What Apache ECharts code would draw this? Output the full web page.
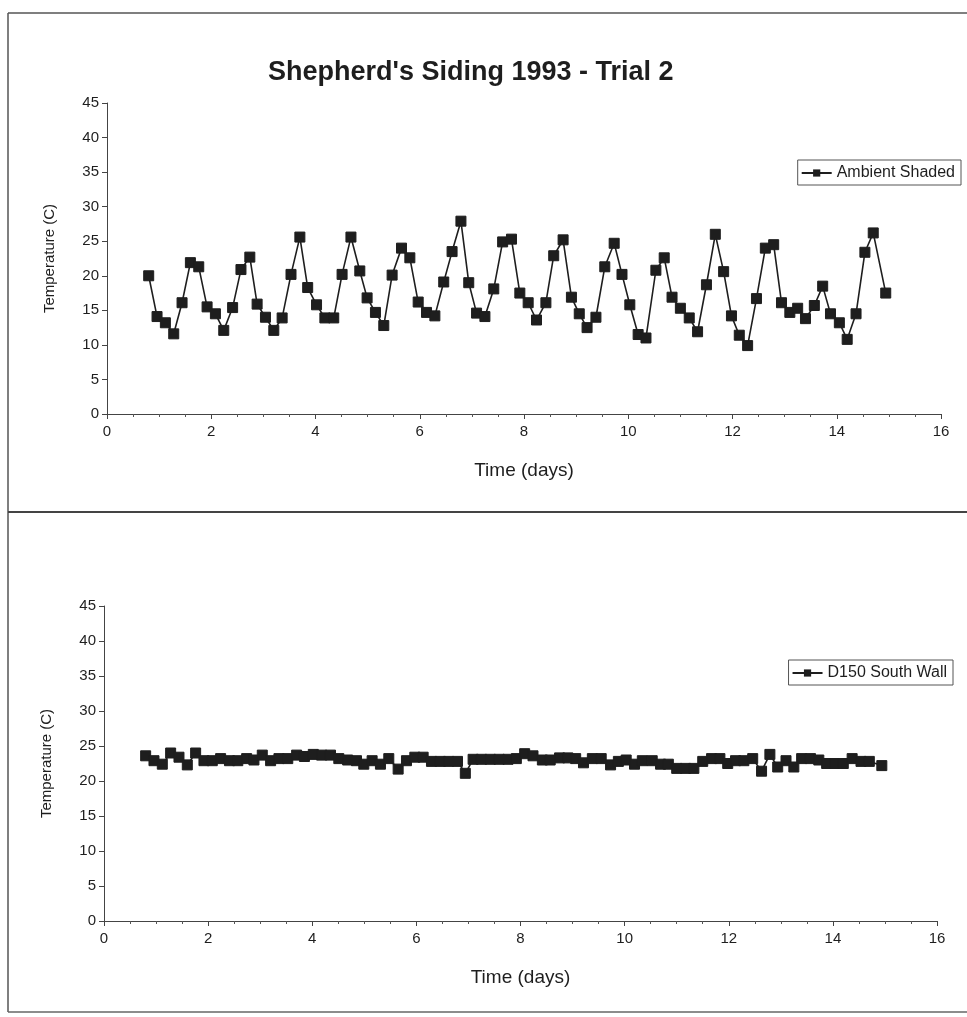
<!DOCTYPE html>
<html>
<head>
<meta charset="utf-8">
<script src="https://cdn.jsdelivr.net/npm/echarts@6/dist/echarts.min.js"></script>
<style>
html,body{margin:0;padding:0;background:#fff;}
#c{width:967px;height:1017px;}
</style>
</head>
<body>
<div id="c"></div>
<script>
// Time of each reading (days)
const timeDays = [0.80,0.96,1.12,1.28,1.44,1.60,1.76,1.92,2.08,2.24,2.41,2.57,2.74,2.88,3.04,3.20,3.36,3.53,3.70,3.85,
  4.02,4.18,4.35,4.51,4.68,4.85,4.99,5.15,5.31,5.47,5.65,5.81,5.97,6.13,6.29,6.46,6.62,6.79,6.94,7.09,
  7.25,7.42,7.59,7.76,7.92,8.08,8.24,8.42,8.57,8.75,8.91,9.06,9.21,9.38,9.55,9.73,9.88,10.03,10.19,10.34,
  10.53,10.69,10.84,11.00,11.17,11.33,11.50,11.67,11.83,11.98,12.13,12.29,12.46,12.63,12.79,12.94,13.10,13.25,13.40,13.57,
  13.73,13.88,14.05,14.20,14.37,14.54,14.70,14.94];
// Ambient Shaded temperature (C)
const ambientShaded = [20.0,14.1,13.2,11.6,16.1,21.9,21.3,15.5,14.5,12.1,15.4,20.9,22.7,15.9,14.0,12.1,13.9,20.2,25.6,18.3,
  15.8,13.9,13.9,20.2,25.6,20.7,16.8,14.7,12.8,20.1,24.0,22.6,16.2,14.7,14.2,19.1,23.5,27.9,19.0,14.6,
  14.1,18.1,24.9,25.3,17.5,16.1,13.6,16.1,22.9,25.2,16.9,14.5,12.5,14.0,21.3,24.7,20.2,15.8,11.5,11.0,
  20.8,22.6,16.9,15.3,13.9,11.9,18.7,26.0,20.6,14.2,11.4,9.9,16.7,24.0,24.5,16.1,14.7,15.3,13.8,15.7,
  18.5,14.5,13.2,10.8,14.5,23.4,26.2,17.5];
// D150 South Wall temperature (C)
const d150SouthWall = [23.6,22.9,22.4,24.0,23.4,22.3,24.0,22.9,22.9,23.2,22.9,22.9,23.2,23.0,23.7,22.9,23.2,23.2,23.7,23.5,
  23.8,23.7,23.7,23.2,23.0,22.9,22.4,22.9,22.4,23.2,21.7,22.9,23.4,23.4,22.8,22.8,22.8,22.8,21.1,23.1,
  23.1,23.1,23.1,23.1,23.2,23.9,23.6,23.0,23.0,23.3,23.3,23.2,22.6,23.2,23.2,22.3,22.8,23.0,22.4,22.9,
  22.9,22.4,22.4,21.8,21.8,21.8,22.8,23.2,23.2,22.5,22.9,22.9,23.2,21.4,23.8,22.0,22.9,22.0,23.2,23.2,
  23.0,22.5,22.5,22.5,23.2,22.8,22.8,22.2];
const seriesNames = ['Ambient Shaded', 'D150 South Wall'];
const titleText = "Shepherd's Siding 1993 - Trial 2";
const xName = 'Time (days)';
const yName = 'Temperature (C)';

const FONT = '"Liberation Sans", Arial, sans-serif';
const INK = '#1e1e1e';

function pairs(vals){ return vals.map((v,i)=>[timeDays[i], v]); }

function xAxis(gi){
  return {
    type:'value', gridIndex:gi, min:0, max:16, interval:2,
    name:xName, nameLocation:'middle', nameGap:47,
    nameTextStyle:{fontFamily:FONT, fontSize:19, color:INK},
    axisLine:{onZero:false, lineStyle:{color:'#444', width:1}},
    axisTick:{show:true, length:5, lineStyle:{color:'#444'}},
    minorTick:{show:true, splitNumber:4, length:3, lineStyle:{color:'#555'}},
    axisLabel:{fontFamily:FONT, fontSize:15, color:INK, margin:10},
    splitLine:{show:false}
  };
}
function yAxis(gi){
  return {
    type:'value', gridIndex:gi, min:0, max:45, interval:5,
    name:yName, nameLocation:'middle', nameGap:50,
    nameTextStyle:{fontFamily:FONT, fontSize:15, color:INK},
    axisLine:{show:true, lineStyle:{color:'#444', width:1}},
    axisTick:{show:true, length:5, lineStyle:{color:'#444'}},
    axisLabel:{fontFamily:FONT, fontSize:15, color:INK, margin:8},
    splitLine:{show:false}
  };
}
function lineSeries(name, vals, gi){
  return {
    name:name, type:'line', xAxisIndex:gi, yAxisIndex:gi,
    data:pairs(vals),
    symbol:'rect', symbolSize:10, showAllSymbol:true,
    lineStyle:{color:INK, width:1.6},
    itemStyle:{color:INK, borderColor:INK},
    emphasis:{disabled:true},
    animation:false
  };
}
function legend(name, top, right){
  return {
    data:[name], top:top, right:right, orient:'horizontal',
    borderColor:'#555', borderWidth:1, borderRadius:0, padding:[5,6,4,3],
    itemWidth:30, itemHeight:9, itemGap:4,
    textStyle:{fontFamily:FONT, fontSize:16, color:INK},
    selectedMode:false
  };
}

const chart = echarts.init(document.getElementById('c'), null, {renderer:'canvas'});
chart.setOption({
  backgroundColor:'#fff',
  animation:false,
  title:{
    text:titleText, left:263, top:54,
    textStyle:{fontFamily:FONT, fontSize:27, fontWeight:'bold', color:INK}
  },
  legend:[legend(seriesNames[0], 160, 6), legend(seriesNames[1], 660, 14)],
  grid:[
    {left:107, right:26, top:103, bottom:603},
    {left:104, right:30, top:606, bottom:96}
  ],
  xAxis:[xAxis(0), xAxis(1)],
  yAxis:[yAxis(0), yAxis(1)],
  series:[lineSeries(seriesNames[0], ambientShaded, 0), lineSeries(seriesNames[1], d150SouthWall, 1)],
  graphic:[
    {type:'line', shape:{x1:8,y1:13,x2:967,y2:13}, style:{stroke:'#555', lineWidth:1.5}},
    {type:'line', shape:{x1:8,y1:13,x2:8,y2:1012}, style:{stroke:'#555', lineWidth:1.5}},
    {type:'line', shape:{x1:8,y1:512,x2:967,y2:512}, style:{stroke:'#444', lineWidth:2}},
    {type:'line', shape:{x1:8,y1:1012,x2:967,y2:1012}, style:{stroke:'#666', lineWidth:1.5}}
  ]
});
</script>
</body>
</html>
